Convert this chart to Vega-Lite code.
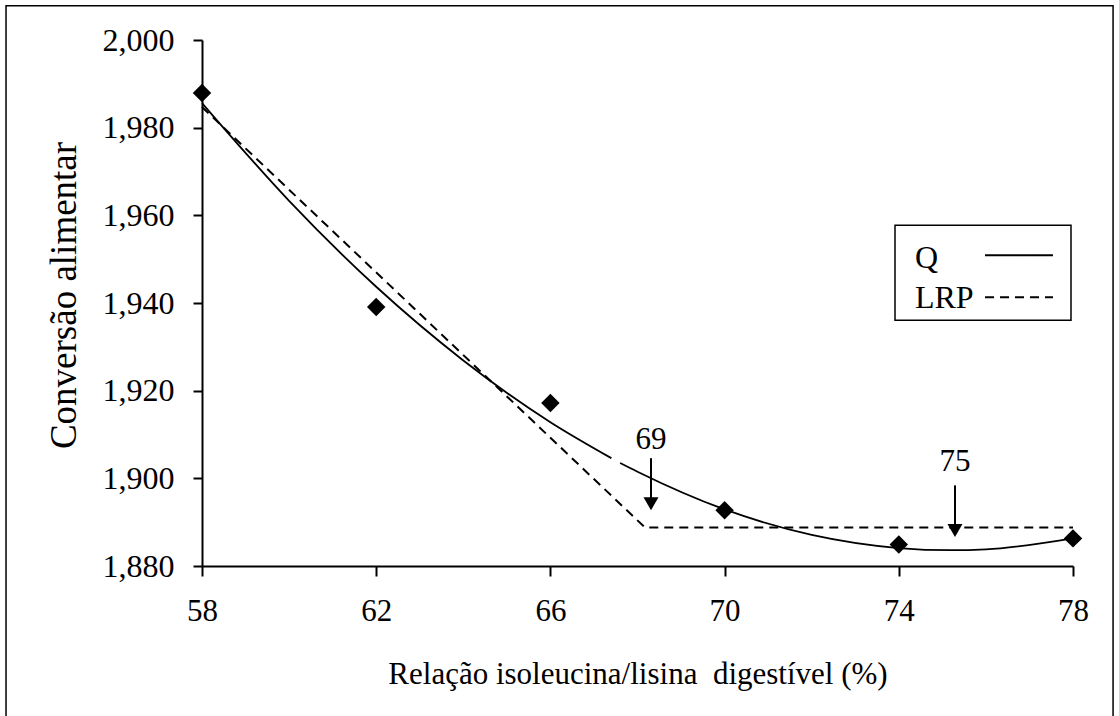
{
  "$schema": "https://vega.github.io/schema/vega-lite/v6.json",
  "autosize": "none",
  "width": 871,
  "height": 526,
  "padding": {"left": 202, "top": 40, "right": 46, "bottom": 150},
  "background": "white",
  "config": {"view": {"stroke": null}, "font": "Times New Roman, Liberation Serif, serif"},
  "datasets": {
    "q": [
      {"segment": "a", "x": 58, "y": 1.9856},
      {"segment": "a", "x": 60, "y": 1.9633},
      {"segment": "a", "x": 62, "y": 1.9437},
      {"segment": "a", "x": 64, "y": 1.9269},
      {"segment": "a", "x": 66, "y": 1.9128},
      {"segment": "a", "x": 67.4, "y": 1.9046},
      {"segment": "b", "x": 67.6, "y": 1.9035},
      {"segment": "b", "x": 68, "y": 1.9015},
      {"segment": "b", "x": 70, "y": 1.8929},
      {"segment": "b", "x": 72, "y": 1.8871},
      {"segment": "b", "x": 74, "y": 1.8841},
      {"segment": "b", "x": 75.2, "y": 1.8836},
      {"segment": "b", "x": 76, "y": 1.8838},
      {"segment": "b", "x": 78, "y": 1.8863}
    ],
    "lrp": [
      {"x": 58, "y": 1.9847},
      {"x": 68.17, "y": 1.8888},
      {"x": 78, "y": 1.8888}
    ],
    "points": [
      {"x": 58, "y": 1.9879},
      {"x": 62, "y": 1.9391},
      {"x": 66, "y": 1.9172},
      {"x": 70, "y": 1.8927},
      {"x": 74, "y": 1.8849},
      {"x": 78, "y": 1.8863}
    ],
    "arrows": [
      {"label": "69", "x": 68.31, "top": 1.9046, "head": 1.8942, "ytext": 1.9087},
      {"label": "75", "x": 75.29, "top": 1.8984, "head": 1.8881, "ytext": 1.9037}
    ],
    "legend": [
      {"label": "Q", "tx": 74.37, "ty": 1.94795, "lx1": 75.98, "lx2": 77.54, "ly": 1.95091},
      {"label": "LRP", "tx": 74.37, "ty": 1.93881, "lx1": 75.98, "lx2": 77.54, "ly": 1.94132}
    ]
  },
  "layer": [
    {
      "data": {"name": "q"},
      "mark": {"type": "line", "interpolate": "monotone", "color": "black", "strokeWidth": 1.8},
      "encoding": {
        "x": {
          "field": "x", "type": "quantitative",
          "scale": {"domain": [58, 78], "nice": false, "zero": false},
          "axis": {
            "title": "Relação isoleucina/lisina\u00a0 digestível (%)",
            "values": [58, 62, 66, 70, 74, 78],
            "grid": false,
            "domainColor": "black", "domainWidth": 2,
            "tickColor": "black", "tickWidth": 2, "tickSize": 10,
            "labelFont": "Times New Roman, Liberation Serif, serif", "labelFontSize": 31, "labelColor": "black",
            "labelPadding": 20, "labelFlush": false, "labelOverlap": false,
            "titleFont": "Times New Roman, Liberation Serif, serif", "titleFontSize": 31, "titleFontWeight": "normal", "titleColor": "black",
            "titleY": 117, "titleBaseline": "alphabetic"
          }
        },
        "y": {
          "field": "y", "type": "quantitative",
          "scale": {"domain": [1.88, 2.0], "nice": false, "zero": false},
          "axis": {
            "title": "Conversão alimentar",
            "values": [1.88, 1.9, 1.92, 1.94, 1.96, 1.98, 2.0],
            "labelExpr": "replace(format(datum.value, '.3f'), '.', ',')",
            "grid": false,
            "domainColor": "black", "domainWidth": 2,
            "tickColor": "black", "tickWidth": 2, "tickSize": 9,
            "labelFont": "Times New Roman, Liberation Serif, serif", "labelFontSize": 32, "labelColor": "black",
            "labelPadding": 19, "labelFlush": false, "labelOverlap": false,
            "titleFont": "Times New Roman, Liberation Serif, serif", "titleFontSize": 37, "titleFontWeight": "normal", "titleColor": "black",
            "titleAngle": -90, "titleX": -127, "titleY": 255, "titleAlign": "center", "titleBaseline": "alphabetic"
          }
        },
        "detail": {"field": "segment"}
      }
    },
    {
      "data": {"name": "lrp"},
      "mark": {"type": "line", "color": "black", "strokeWidth": 2, "strokeDash": [9, 6]},
      "encoding": {
        "x": {"field": "x", "type": "quantitative"},
        "y": {"field": "y", "type": "quantitative"}
      }
    },
    {
      "data": {"name": "points"},
      "mark": {"type": "point", "shape": "diamond", "filled": true, "color": "black", "size": 340, "opacity": 1},
      "encoding": {
        "x": {"field": "x", "type": "quantitative"},
        "y": {"field": "y", "type": "quantitative"}
      }
    },
    {
      "data": {"name": "arrows"},
      "mark": {"type": "rule", "color": "black", "strokeWidth": 2},
      "encoding": {
        "x": {"field": "x", "type": "quantitative"},
        "y": {"field": "top", "type": "quantitative"},
        "y2": {"field": "head"}
      }
    },
    {
      "data": {"name": "arrows"},
      "mark": {"type": "point", "shape": "triangle-down", "filled": true, "color": "black", "size": 225, "opacity": 1},
      "encoding": {
        "x": {"field": "x", "type": "quantitative"},
        "y": {"field": "head", "type": "quantitative"}
      }
    },
    {
      "data": {"name": "arrows"},
      "mark": {"type": "text", "font": "Times New Roman, Liberation Serif, serif", "fontSize": 31, "color": "black", "align": "center", "baseline": "middle"},
      "encoding": {
        "x": {"field": "x", "type": "quantitative"},
        "y": {"field": "ytext", "type": "quantitative"},
        "text": {"field": "label"}
      }
    },
    {
      "data": {"values": [{}]},
      "mark": {"type": "rect", "filled": false, "stroke": "black", "strokeWidth": 1.5, "clip": false},
      "encoding": {
        "x": {"datum": 73.913, "type": "quantitative"},
        "x2": {"datum": 77.954},
        "y": {"datum": 1.95776, "type": "quantitative"},
        "y2": {"datum": 1.93607}
      }
    },
    {
      "data": {"name": "legend"},
      "mark": {"type": "text", "font": "Times New Roman, Liberation Serif, serif", "fontSize": 32, "color": "black", "align": "left", "baseline": "alphabetic"},
      "encoding": {
        "x": {"field": "tx", "type": "quantitative"},
        "y": {"field": "ty", "type": "quantitative"},
        "text": {"field": "label"}
      }
    },
    {
      "data": {"name": "legend"},
      "mark": {"type": "rule", "color": "black", "strokeWidth": 2},
      "encoding": {
        "x": {"field": "lx1", "type": "quantitative"},
        "x2": {"field": "lx2"},
        "y": {"field": "ly", "type": "quantitative"},
        "strokeDash": {"field": "label", "type": "nominal", "scale": {"domain": ["Q", "LRP"], "range": [[1, 0], [9, 6]]}, "legend": null}
      }
    },
    {
      "data": {"values": [{}]},
      "mark": {"type": "rect", "filled": false, "stroke": "black", "strokeWidth": 1.5, "clip": false},
      "encoding": {
        "x": {"datum": 53.5, "type": "quantitative"},
        "x2": {"datum": 78.92},
        "y": {"datum": 2.0078, "type": "quantitative"},
        "y2": {"datum": 1.8448}
      }
    }
  ]
}
